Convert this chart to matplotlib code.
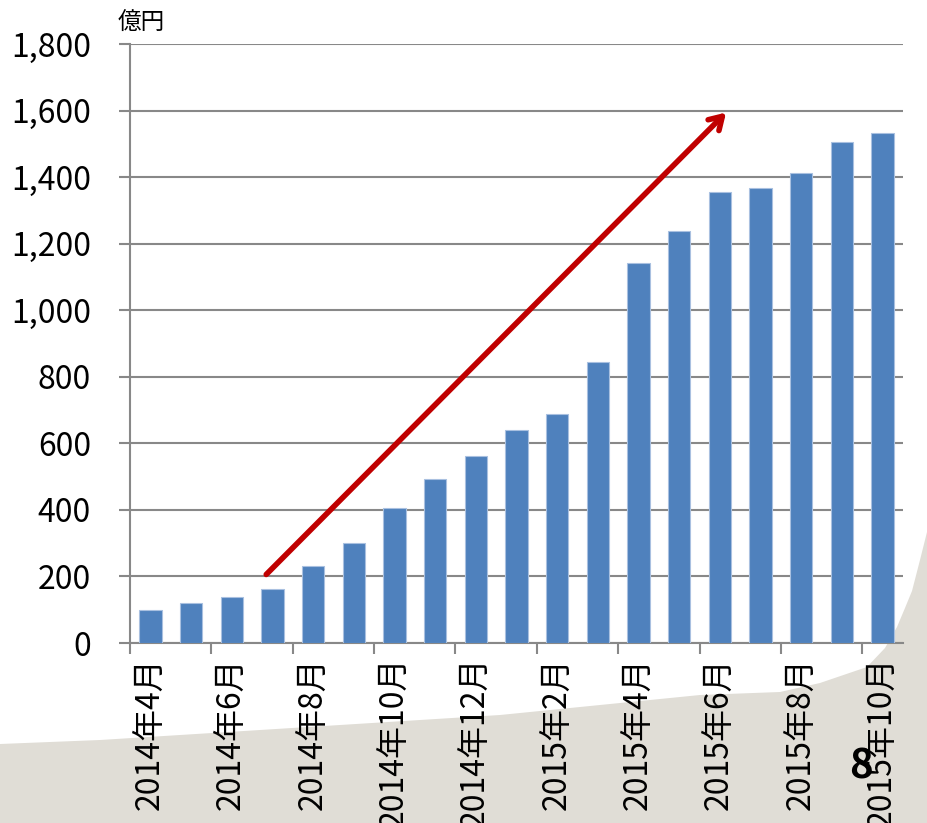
import matplotlib.pyplot as plt
from matplotlib.patches import Polygon
import numpy as np

plt.rcParams['font.family'] = ['Liberation Sans Narrow', 'Noto Sans CJK JP', 'DejaVu Sans']

# 月次残高(億円)
months = ['2014年4月', '2014年5月', '2014年6月', '2014年7月', '2014年8月', '2014年9月',
          '2014年10月', '2014年11月', '2014年12月', '2015年1月', '2015年2月', '2015年3月',
          '2015年4月', '2015年5月', '2015年6月', '2015年7月', '2015年8月', '2015年9月',
          '2015年10月']
values = [99, 121, 138, 162, 231, 301, 406, 493, 561, 639, 688, 844,
          1142, 1238, 1354, 1368, 1411, 1505, 1533]
yticks = [0, 200, 400, 600, 800, 1000, 1200, 1400, 1600, 1800]
arrow_start = (2.8, 200)
arrow_end = (14.2, 1600)

fig = plt.figure(figsize=(9.28, 8.23), dpi=100)

# 背景の灰色の帯
swoosh = [(0, 0), (0, 79), (100, 83), (500, 108), (700, 128), (780, 131), (820, 140),
          (867, 156), (885, 175), (897, 196), (905, 215), (912, 232), (920, 263),
          (928, 295), (928, 0)]
fig.patches.append(Polygon([(x / 928, y / 823) for x, y in swoosh], closed=True,
                           transform=fig.transFigure, facecolor='#E0DDD6',
                           edgecolor='none', zorder=-5))

ax = fig.add_axes([130 / 928, 1 - 643 / 823, 773 / 928, 599 / 823])
ax.patch.set_alpha(0)

x = np.arange(len(values))
ax.bar(x, values, width=0.55, color='#4F81BD', edgecolor='#A9C0E0', linewidth=0.8, zorder=3)

ax.set_xlim(-0.5, len(values) - 0.5)
ax.set_ylim(0, 1800)
ax.set_yticks(yticks)
ax.set_yticklabels(['{:,}'.format(v) for v in yticks], fontsize=23)
ax.yaxis.grid(True, color='#888888', linewidth=1.5, zorder=1)
ax.tick_params(axis='y', length=8, width=1.5, color='#888888', pad=20)

# 境界に目盛、ラベルは2か月おき
ax.set_xticks(np.arange(-0.5, len(values), 2))
ax.set_xticklabels([])
ax.tick_params(axis='x', which='major', length=8, width=1.5, color='#888888')
ax.set_xticks(x[::2], minor=True)
ax.set_xticklabels(months[::2], minor=True, rotation=90, fontsize=23)
ax.tick_params(axis='x', which='minor', length=0, pad=10)

for s in ['top', 'right']:
    ax.spines[s].set_visible(False)
for s in ['left', 'bottom']:
    ax.spines[s].set_color('#888888')
    ax.spines[s].set_linewidth(1.5)

ax.annotate('', xy=arrow_end, xytext=arrow_start,
            arrowprops=dict(arrowstyle='->,head_length=0.9,head_width=0.55',
                            color='#C00000', lw=4, capstyle='round'), zorder=5)

fig.text(118 / 928, 1 - 23 / 823, '億円', fontsize=17, va='center', ha='left')
fig.text(861 / 928, 1 - 767 / 823, '8', fontsize=29, fontweight='bold', va='center', ha='center')

fig.savefig('out.png', dpi=100)
